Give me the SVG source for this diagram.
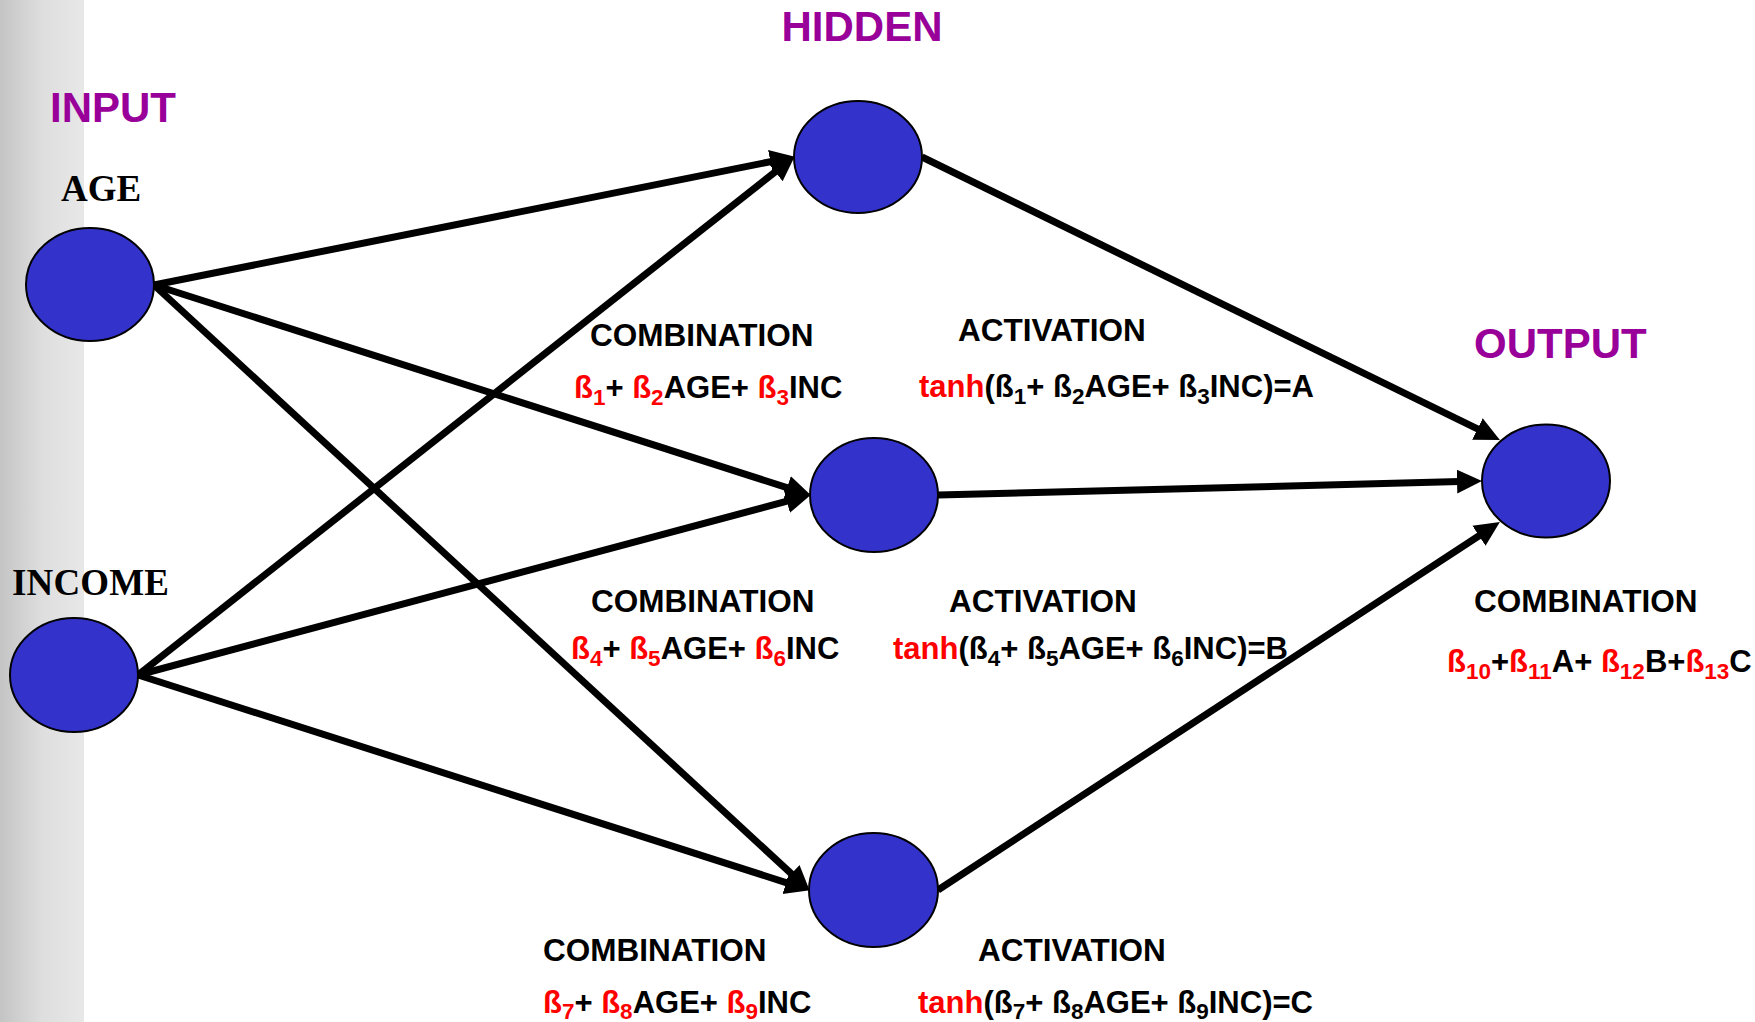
<svg xmlns="http://www.w3.org/2000/svg" width="1755" height="1022" viewBox="0 0 1755 1022">
  <defs>
    <linearGradient id="sideband" x1="0" y1="0" x2="1" y2="0">
      <stop offset="0" stop-color="#c4c4c4"/>
      <stop offset="0.5" stop-color="#dedede"/>
      <stop offset="1" stop-color="#e8e8e8"/>
    </linearGradient>
    <marker id="arrow" markerUnits="userSpaceOnUse" markerWidth="28" markerHeight="26" viewBox="0 0 28 26" refX="12" refY="13" orient="auto">
      <path d="M0,1 L25,13 L0,25 z" fill="#000"/>
    </marker>
    <style>
      .node { fill: #3333cc; stroke: #000; stroke-width: 2; }
      .edge { stroke: #000; stroke-width: 7; fill: none; marker-end: url(#arrow); }
      .layer { font-family: "Liberation Sans", Arial, sans-serif; font-weight: bold; font-size: 42px; fill: #990099; }
      .var { font-family: "Liberation Serif", "Times New Roman", serif; font-weight: bold; font-size: 37px; fill: #000; }
      .lbl { font-family: "Liberation Sans", Arial, sans-serif; font-weight: bold; font-size: 31.5px; fill: #000; }
      .eq { font-family: "Liberation Sans", Arial, sans-serif; font-weight: bold; font-size: 31px; fill: #000; }
      .r { fill: #ff0000; }
      .sub { font-size: 22.5px; }
    </style>
  </defs>

  <!-- left side band -->
  <rect x="0" y="0" width="84" height="1022" fill="url(#sideband)"/>

  <!-- layer titles -->
  <text class="layer" x="50" y="122">INPUT</text>
  <text class="layer" x="862" y="41" text-anchor="middle">HIDDEN</text>
  <text class="layer" x="1474" y="358">OUTPUT</text>

  <!-- connectors -->
  <g id="connectors">
    <line class="edge" x1="154" y1="285" x2="782.2" y2="159.4"/>
    <line class="edge" x1="138" y1="675" x2="784.6" y2="164.4"/>
    <line class="edge" x1="154" y1="285" x2="798.6" y2="491.3"/>
    <line class="edge" x1="138" y1="675" x2="798.4" y2="498.1"/>
    <line class="edge" x1="154" y1="285" x2="800.2" y2="881.9"/>
    <line class="edge" x1="138" y1="675" x2="797.6" y2="886.3"/>
    <line class="edge" x1="922" y1="157" x2="1488.2" y2="434.2"/>
    <line class="edge" x1="938" y1="495" x2="1469" y2="481.3"/>
    <line class="edge" x1="938" y1="890" x2="1489" y2="529.2"/>
  </g>

  <!-- input nodes -->
  <g id="age">
    <text class="var" x="61" y="201">AGE</text>
    <ellipse class="node" cx="90" cy="284.5" rx="64" ry="56.5"/>
  </g>
  <g id="income">
    <text class="var" x="12" y="595" textLength="157" lengthAdjust="spacing">INCOME</text>
    <ellipse class="node" cx="74" cy="675" rx="64" ry="57"/>
  </g>

  <!-- hidden nodes -->
  <g id="hidden-a">
    <ellipse class="node" cx="858" cy="157" rx="64" ry="56"/>
    <text class="lbl" x="590" y="346">COMBINATION</text>
    <text class="eq" x="574" y="398"><tspan class="r">ß</tspan><tspan class="r sub" dy="7">1</tspan><tspan dy="-7">+ </tspan><tspan class="r">ß</tspan><tspan class="r sub" dy="7">2</tspan><tspan dy="-7">AGE+ </tspan><tspan class="r">ß</tspan><tspan class="r sub" dy="7">3</tspan><tspan dy="-7">INC</tspan></text>
    <text class="lbl" x="958" y="341">ACTIVATION</text>
    <text class="eq" x="919" y="397"><tspan class="r">tanh</tspan><tspan>(ß</tspan><tspan class="sub" dy="7">1</tspan><tspan dy="-7">+ ß</tspan><tspan class="sub" dy="7">2</tspan><tspan dy="-7">AGE+ ß</tspan><tspan class="sub" dy="7">3</tspan><tspan dy="-7">INC)=A</tspan></text>
  </g>
  <g id="hidden-b">
    <ellipse class="node" cx="874" cy="495" rx="64" ry="57"/>
    <text class="lbl" x="591" y="612">COMBINATION</text>
    <text class="eq" x="571" y="659"><tspan class="r">ß</tspan><tspan class="r sub" dy="7">4</tspan><tspan dy="-7">+ </tspan><tspan class="r">ß</tspan><tspan class="r sub" dy="7">5</tspan><tspan dy="-7">AGE+ </tspan><tspan class="r">ß</tspan><tspan class="r sub" dy="7">6</tspan><tspan dy="-7">INC</tspan></text>
    <text class="lbl" x="949" y="612">ACTIVATION</text>
    <text class="eq" x="893" y="659"><tspan class="r">tanh</tspan><tspan>(ß</tspan><tspan class="sub" dy="7">4</tspan><tspan dy="-7">+ ß</tspan><tspan class="sub" dy="7">5</tspan><tspan dy="-7">AGE+ ß</tspan><tspan class="sub" dy="7">6</tspan><tspan dy="-7">INC)=B</tspan></text>
  </g>
  <g id="hidden-c">
    <ellipse class="node" cx="873.5" cy="890" rx="64.5" ry="57"/>
    <text class="lbl" x="543" y="961">COMBINATION</text>
    <text class="eq" x="543" y="1013"><tspan class="r">ß</tspan><tspan class="r sub" dy="6">7</tspan><tspan dy="-6">+ </tspan><tspan class="r">ß</tspan><tspan class="r sub" dy="6">8</tspan><tspan dy="-6">AGE+ </tspan><tspan class="r">ß</tspan><tspan class="r sub" dy="6">9</tspan><tspan dy="-6">INC</tspan></text>
    <text class="lbl" x="978" y="961">ACTIVATION</text>
    <text class="eq" x="918" y="1013"><tspan class="r">tanh</tspan><tspan>(ß</tspan><tspan class="sub" dy="6">7</tspan><tspan dy="-6">+ ß</tspan><tspan class="sub" dy="6">8</tspan><tspan dy="-6">AGE+ ß</tspan><tspan class="sub" dy="6">9</tspan><tspan dy="-6">INC)=C</tspan></text>
  </g>

  <!-- output node -->
  <g id="output">
    <ellipse class="node" cx="1546" cy="481" rx="64" ry="56.5"/>
    <text class="lbl" x="1474" y="612">COMBINATION</text>
    <text class="eq" x="1447" y="672"><tspan class="r">ß</tspan><tspan class="r sub" dy="7">10</tspan><tspan dy="-7">+</tspan><tspan class="r">ß</tspan><tspan class="r sub" dy="7">11</tspan><tspan dy="-7">A+ </tspan><tspan class="r">ß</tspan><tspan class="r sub" dy="7">12</tspan><tspan dy="-7">B+</tspan><tspan class="r">ß</tspan><tspan class="r sub" dy="7">13</tspan><tspan dy="-7">C</tspan></text>
  </g>
</svg>
